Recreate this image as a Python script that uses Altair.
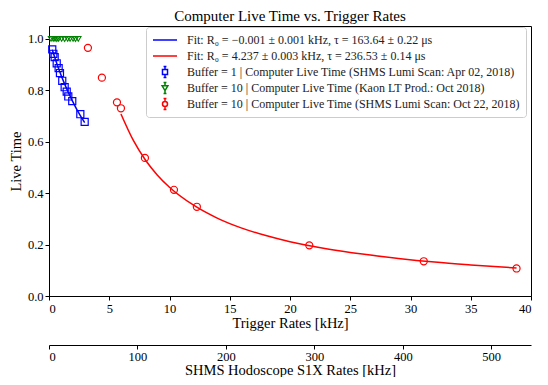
import altair as alt
import pandas as pd

# ---------------- data ----------------
blue_x = [0.27, 0.36, 0.47, 0.64, 0.80, 0.91, 1.10, 1.30, 1.47, 1.60, 1.93, 2.60, 2.96]
blue_y = [0.959, 0.942, 0.929, 0.905, 0.886, 0.867, 0.837, 0.812, 0.795, 0.776, 0.758, 0.707, 0.677]

green_x = [0.17, 0.35, 0.50, 0.65, 0.80, 1.05, 1.30, 1.55, 1.75, 2.00, 2.20, 2.43]
green_y = [1.0, 1.0, 1.0, 0.999, 1.0, 1.0, 0.999, 1.0, 1.0, 1.0, 0.999, 1.0]

red_x = [3.23, 4.39, 5.64, 5.97, 7.96, 10.37, 12.27, 21.6, 31.1, 38.8]
red_y = [0.965, 0.849, 0.753, 0.730, 0.537, 0.413, 0.347, 0.197, 0.135, 0.107]

blue_fit_x = [0.27, 0.80, 1.30, 1.93, 2.60, 2.96]
blue_fit_y = [0.958, 0.884, 0.824, 0.760, 0.701, 0.674]

red_fit_x = [5.97, 7.0, 8.0, 9.0, 10.0, 12.0, 14.0, 16.0, 18.0, 20.0, 23.0, 26.0, 29.0, 32.0, 35.0, 38.8]
red_fit_y = [0.708, 0.605, 0.529, 0.470, 0.423, 0.353, 0.302, 0.264, 0.235, 0.211, 0.184, 0.163, 0.146, 0.132, 0.121, 0.109]

x_ticks = [0, 5, 10, 15, 20, 25, 30, 35, 40]
y_ticks = [0.0, 0.2, 0.4, 0.6, 0.8, 1.0]
hodo_ticks = [0, 100, 200, 300, 400, 500]
hodo_domain = [0, 545]

labels = [
    "Fit: R\u2080 = \u22120.001 \u00b1 0.001 kHz, \u03c4 = 163.64 \u00b1 0.22 \u03bcs",
    "Fit: R\u2080 = 4.237 \u00b1 0.003 kHz, \u03c4 = 236.53 \u00b1 0.14 \u03bcs",
    "Buffer = 1 | Computer Live Time (SHMS Lumi Scan: Apr 02, 2018)",
    "Buffer = 10 | Computer Live Time (Kaon LT Prod.: Oct 2018)",
    "Buffer = 10 | Computer Live Time (SHMS Lumi Scan: Oct 22, 2018)",
]
colors = ["#0000ff", "#ff0000", "#0000ff", "#008000", "#ff0000"]

# legend glyphs (unit paths, scaled by the legend symbol size)
bar = " M0,-0.21L0,-0.46 M-0.12,-0.46L0.12,-0.46 M0,0.21L0,0.46 M-0.12,0.46L0.12,0.46"
shapes = [
    "M-1,0L1,0",
    "M-1,0L1,0",
    "M-0.21,-0.21L0.21,-0.21L0.21,0.21L-0.21,0.21Z" + bar,
    "M-0.24,-0.18L0.24,-0.18L0,0.22Z M0,-0.18L0,-0.46 M-0.12,-0.46L0.12,-0.46 M0,0.22L0,0.46 M-0.12,0.46L0.12,0.46",
    "M-0.21,0A0.21,0.21 0 1,0 0.21,0A0.21,0.21 0 1,0 -0.21,0" + bar,
]

SERIF = "Liberation Serif"

blue_df = pd.DataFrame({"x": blue_x, "y": blue_y})
green_df = pd.DataFrame({"x": green_x, "y": green_y})
red_df = pd.DataFrame({"x": red_x, "y": red_y})
bfit_df = pd.DataFrame({"x": blue_fit_x, "y": blue_fit_y})
rfit_df = pd.DataFrame({"x": red_fit_x, "y": red_fit_y})

legend_df = pd.concat([
    bfit_df.assign(series=labels[0]),
    rfit_df.assign(series=labels[1]),
    blue_df.assign(series=labels[2]),
    green_df.assign(series=labels[3]),
    red_df.assign(series=labels[4]),
], ignore_index=True)

xscale = alt.Scale(domain=[0, 40], nice=False, zero=False)
yscale = alt.Scale(domain=[0, 1.05], nice=False, zero=False)

xaxis = alt.Axis(values=x_ticks, format="d", title="Trigger Rates [kHz]", grid=False,
                 tickSize=4, labelPadding=2, titlePadding=2)
yaxis = alt.Axis(values=y_ticks, format=".1f", title="Live Time", grid=False,
                 tickSize=4, labelPadding=2, titlePadding=4)

X = alt.X("x:Q", scale=xscale, axis=xaxis)
Y = alt.Y("y:Q", scale=yscale, axis=yaxis)

rfit = alt.Chart(rfit_df).mark_line(color="#ff0000", strokeWidth=1.5, interpolate="monotone").encode(x=X, y=Y)
bfit = alt.Chart(bfit_df).mark_line(color="#0000ff", strokeWidth=1.5, interpolate="monotone").encode(x=X, y=Y)

bpts = alt.Chart(blue_df).mark_point(shape="square", filled=False, color="#0000ff", size=50,
                                     strokeWidth=1.2, opacity=1).encode(x=X, y=Y)
gpts = alt.Chart(green_df).mark_point(shape="triangle-down", filled=False, color="#008000", size=30,
                                      strokeWidth=1.1, opacity=1).encode(x=X, y=Y)
rpts = alt.Chart(red_df).mark_point(shape="circle", filled=False, color="#ff0000", size=50,
                                    strokeWidth=1.2, opacity=1).encode(x=X, y=Y)

legend = alt.Legend(
    orient="none", legendX=97, legendY=1, title=None,
    labelFont=SERIF, labelFontSize=12, labelColor="#222222", labelLimit=0,
    labelOffset=9, symbolSize=576, symbolStrokeWidth=1.5, symbolOpacity=1,
    symbolFillColor="transparent",
    clipHeight=14, rowPadding=2, padding=6,
    fillColor="white", strokeColor="#cccccc", cornerRadius=3,
)

leg = alt.Chart(legend_df).mark_point(filled=False, opacity=0).encode(
    x=X, y=Y,
    color=alt.Color("series:N", scale=alt.Scale(domain=labels, range=colors), legend=legend),
    shape=alt.Shape("series:N", scale=alt.Scale(domain=labels, range=shapes), legend=legend),
)

main = alt.layer(rfit, bfit, bpts, gpts, rpts, leg)

hodo_df = pd.DataFrame({"h": hodo_domain})
secondary = alt.Chart(hodo_df).mark_point(opacity=0).encode(
    x=alt.X("h:Q", scale=alt.Scale(domain=hodo_domain, nice=False, zero=False),
            axis=alt.Axis(orient="bottom", offset=49, values=hodo_ticks, format="d",
                          title="SHMS Hodoscope S1X Rates [kHz]", grid=False,
                          tickSize=4, labelPadding=1, titlePadding=1))
)

chart = alt.layer(main, secondary).resolve_scale(x="independent").properties(
    width=482, height=270,
    title=alt.TitleParams("Computer Live Time vs. Trigger Rates", font=SERIF, fontSize=15,
                          fontWeight="normal", anchor="middle", offset=2, color="black"),
    autosize=alt.AutoSizeParams(type="none"),
    padding={"left": 41, "top": 18, "right": 9, "bottom": 81},
).configure_view(stroke="black", strokeWidth=1).configure_axis(
    labelFont=SERIF, titleFont=SERIF, labelFontSize=12.5, titleFontSize=14.5,
    titleFontWeight="normal", labelColor="black", titleColor="black",
    domainColor="black", tickColor="black", domainWidth=1, tickWidth=1,
)

chart.save("out.html", embed_options={"renderer": "svg", "actions": False})
